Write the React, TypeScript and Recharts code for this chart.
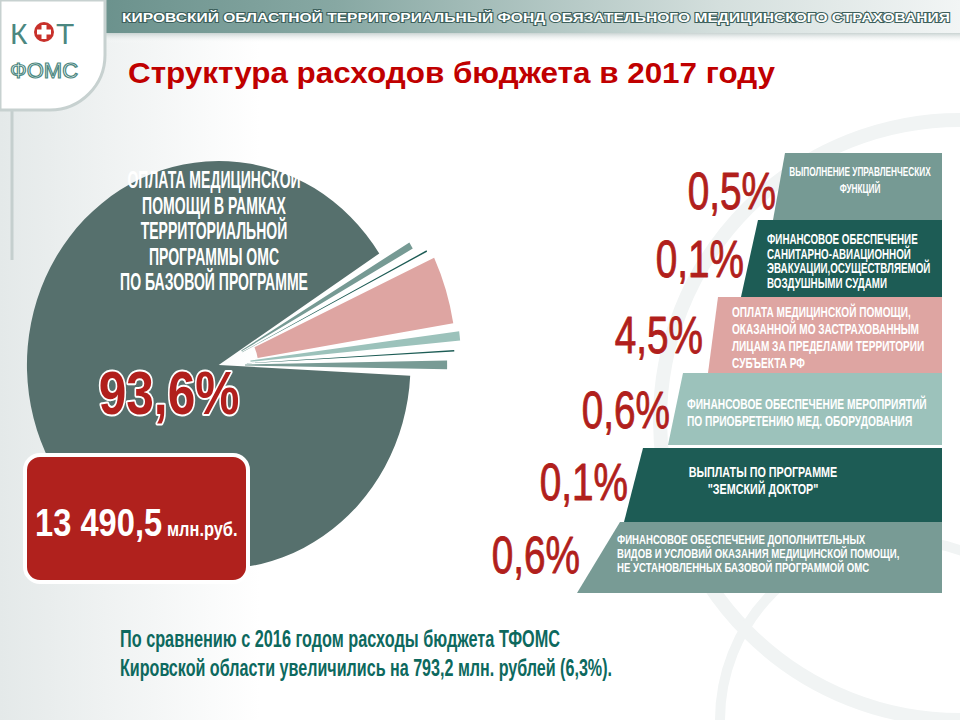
import React from "react";
import { PieChart, Pie, Cell } from "recharts";

// budget structure 2017, % of total spending
const bigName = "Оплата медицинской помощи в рамках территориальной программы ОМС по базовой программе";
const bigShare = 93.6;
const bigLabelLines = [
  "ОПЛАТА МЕДИЦИНСКОЙ",
  "ПОМОЩИ В РАМКАХ",
  "ТЕРРИТОРИАЛЬНОЙ",
  "ПРОГРАММЫ ОМС",
  "ПО БАЗОВОЙ ПРОГРАММЕ",
];
const totalSum = "13 490,5";
const totalUnit = "млн.руб.";

const otherNames = [
  "Выполнение управленческих функций",
  "Санитарно-авиационная эвакуация",
  "Оплата помощи застрахованным за пределами субъекта РФ",
  "Приобретение мед. оборудования",
  "Земский доктор",
  "Дополнительные виды помощи",
];
const otherShares = [0.5, 0.1, 4.5, 0.6, 0.1, 0.6];
const otherLines = [
  ["ВЫПОЛНЕНИЕ УПРАВЛЕНЧЕСКИХ", "ФУНКЦИЙ"],
  ["ФИНАНСОВОЕ ОБЕСПЕЧЕНИЕ", "САНИТАРНО-АВИАЦИОННОЙ", "ЭВАКУАЦИИ,ОСУЩЕСТВЛЯЕМОЙ", "ВОЗДУШНЫМИ СУДАМИ"],
  ["ОПЛАТА МЕДИЦИНСКОЙ ПОМОЩИ,", "ОКАЗАННОЙ МО ЗАСТРАХОВАННЫМ", "ЛИЦАМ ЗА ПРЕДЕЛАМИ ТЕРРИТОРИИ", "СУБЪЕКТА РФ"],
  ["ФИНАНСОВОЕ ОБЕСПЕЧЕНИЕ МЕРОПРИЯТИЙ", "ПО ПРИОБРЕТЕНИЮ МЕД. ОБОРУДОВАНИЯ"],
  ["ВЫПЛАТЫ ПО ПРОГРАММЕ", "\"ЗЕМСКИЙ ДОКТОР\""],
  ["ФИНАНСОВОЕ ОБЕСПЕЧЕНИЕ ДОПОЛНИТЕЛЬНЫХ", "ВИДОВ И УСЛОВИЙ ОКАЗАНИЯ МЕДИЦИНСКОЙ ПОМОЩИ,", "НЕ УСТАНОВЛЕННЫХ БАЗОВОЙ ПРОГРАММОЙ ОМС"],
];

const headerText = "КИРОВСКИЙ ОБЛАСТНОЙ ТЕРРИТОРИАЛЬНЫЙ ФОНД ОБЯЗАТЕЛЬНОГО МЕДИЦИНСКОГО СТРАХОВАНИЯ";
const titleText = "Структура  расходов бюджета в 2017 году";
const noteLines = [
  "По сравнению с 2016 годом расходы бюджета ТФОМС",
  "Кировской области увеличились на 793,2 млн. рублей (6,3%).",
];

const BIG_COLOR = "#56706d";
const OTHER_COLORS = ["#769a94", "#1d5c55", "#dea5a2", "#9cc2bb", "#1d5c55", "#789b95"];
const RED = "#b11f1c";

// pie placement; the slide is a little squeezed sideways
const CX = 214;
const CY = 360;
const BIG_R = 204;
const SMALL_OUTER = [237, 249, 253, 258, 251, 243];
const SMALL_INNER = [28, 28, 42, 34, 30, 28];

// panel geometry for the right-hand legend
const panels = [
  { y0: 153, y1: 220, xt: 785, xb: 773, tx: 860, anchor: "middle", ty: 176, lh: 17, size: 12.5, sx: 0.66, pctX: 776, pctY: 209 },
  { y0: 220, y1: 297, xt: 758, xb: 741, tx: 767, anchor: "start", ty: 244, lh: 14.5, size: 14, sx: 0.7, pctX: 744, pctY: 277 },
  { y0: 297, y1: 373, xt: 718, xb: 708, tx: 732, anchor: "start", ty: 317, lh: 17, size: 14, sx: 0.72, pctX: 703, pctY: 353 },
  { y0: 373, y1: 445, xt: 683, xb: 668, tx: 687, anchor: "start", ty: 409, lh: 17, size: 14, sx: 0.73, pctX: 670, pctY: 428 },
  { y0: 448, y1: 522, xt: 643, xb: 624, tx: 763, anchor: "middle", ty: 477, lh: 17, size: 14, sx: 0.77, pctX: 628, pctY: 500 },
  { y0: 522, y1: 593, xt: 620, xb: 577, tx: 617, anchor: "start", ty: 544, lh: 14, size: 13, sx: 0.74, pctX: 580, pctY: 573 },
];

const FONT = "'Liberation Sans', Arial, sans-serif";

const fmt = (v: number) => `${v.toFixed(1).replace(".", ",")}%`;

// squeezed text, to get the look of a condensed face
function CText({ x, y, size, sx, anchor = "start", weight = 700, fill = "#fff", children, stroke, sw }: any) {
  return (
    <text
      transform={`translate(${x},${y}) scale(${sx},1)`}
      fontFamily={FONT}
      fontSize={size}
      fontWeight={weight}
      textAnchor={anchor}
      fill={fill}
      stroke={stroke}
      strokeWidth={sw}
      paintOrder="stroke"
      strokeLinejoin="round"
    >
      {children}
    </text>
  );
}

export default function App() {
  // counterclockwise from the bottom small slice round to the big one
  const pieData = [
    ...otherNames.map((n, i) => ({ name: n, value: otherShares[i], color: OTHER_COLORS[i], idx: i })).reverse(),
    { name: bigName, value: bigShare, color: BIG_COLOR, idx: -1 },
  ];

  const pieProps = {
    data: pieData,
    dataKey: "value",
    nameKey: "name",
    cx: CX,
    cy: CY,
    startAngle: -1,
    endAngle: 359,
    paddingAngle: 2,
    stroke: "none",
    isAnimationActive: false,
  };

  return (
    <div style={{ position: "absolute", left: 0, top: 0, width: 960, height: 720, overflow: "hidden", background: "#fff" }}>
      <svg width={960} height={720} style={{ position: "absolute", left: 0, top: 0 }}>
        <defs>
          <linearGradient id="bgLeft" x1="0" x2="1" y1="0" y2="0">
            <stop offset="0" stopColor="#e4e9e9" />
            <stop offset="1" stopColor="#ffffff" />
          </linearGradient>
          <linearGradient id="band" x1="0" x2="1" y1="0" y2="0">
            <stop offset="0" stopColor="#5f8883" />
            <stop offset="0.35" stopColor="#87a8a3" />
            <stop offset="0.75" stopColor="#d4dfdd" />
            <stop offset="1" stopColor="#f2f5f5" />
          </linearGradient>
          <linearGradient id="shadow" x1="0" x2="0" y1="0" y2="1">
            <stop offset="0" stopColor="#c9d3d2" />
            <stop offset="1" stopColor="#ffffff" stopOpacity="0" />
          </linearGradient>
        </defs>
        <rect x={0} y={0} width={260} height={720} fill="url(#bgLeft)" />
        <circle cx={960} cy={420} r={300} fill="none" stroke="#f1f4f4" strokeWidth={14} />
        <circle cx={900} cy={720} r={180} fill="none" stroke="#f1f4f4" strokeWidth={10} />
        <rect x={0} y={0} width={960} height={33} fill="url(#band)" />
        <rect x={0} y={33} width={960} height={10} fill="url(#shadow)" />
        <line x1={12} y1={100} x2={12} y2={260} stroke="#c5cfce" strokeWidth={3} />
        <path d="M0 0 H105 V55 A55 55 0 0 1 50 110 H0 Z" fill="#fff" stroke="#c7d1d0" strokeWidth={3} />
        <text x={10} y={44} fontFamily={FONT} fontSize={30} fill="#4b8780">К</text>
        <circle cx={44} cy={32} r={10} fill="#c8312b" />
        <rect x={41.5} y={25} width={5} height={14} fill="#fff" />
        <rect x={37} y={29.5} width={14} height={5} fill="#fff" />
        <text x={56} y={44} fontFamily={FONT} fontSize={30} fill="#4b8780">Т</text>
        <text x={10} y={78} fontFamily={FONT} fontSize={22} fill="#fff" stroke="#4b8780" strokeWidth={1.2}>ФОМС</text>
        <text
          x={122}
          y={22}
          fontFamily={FONT}
          fontSize={13}
          fontWeight={700}
          fill="#fff"
          stroke="#3c5f5b"
          strokeWidth={2}
          paintOrder="stroke"
          textLength={828}
          lengthAdjust="spacingAndGlyphs"
        >
          {headerText}
        </text>
      </svg>

      <div
        style={{
          position: "absolute",
          left: 0,
          top: 0,
          transform: "scale(0.94, 1)",
          transformOrigin: `${CX}px ${CY}px`,
        }}
      >
        <PieChart width={960} height={720}>
          <Pie {...pieProps} outerRadius={BIG_R}>
            {pieData.map((d, i) => (
              <Cell key={`big-${i}`} fill={d.idx === -1 ? d.color : "none"} />
            ))}
          </Pie>
          {otherShares.map((_, k) => (
            <Pie key={`p-${k}`} {...pieProps} innerRadius={SMALL_INNER[k]} outerRadius={SMALL_OUTER[k]}>
              {pieData.map((d, i) => (
                <Cell key={`s-${k}-${i}`} fill={d.idx === k ? d.color : "none"} />
              ))}
            </Pie>
          ))}
        </PieChart>
      </div>

      <svg width={960} height={720} style={{ position: "absolute", left: 0, top: 0 }}>
        <text
          x={128}
          y={83}
          fontFamily={FONT}
          fontSize={30}
          fontWeight={700}
          fill="#c00000"
          textLength={647}
          lengthAdjust="spacingAndGlyphs"
        >
          {titleText}
        </text>

        {bigLabelLines.map((l, i) => (
          <CText key={l} x={214} y={188 + i * 25.5} size={23} sx={0.61} anchor="middle">
            {l}
          </CText>
        ))}
        <CText x={169} y={414} size={62} sx={0.8} anchor="middle" fill={RED} stroke="#fff" sw={4}>
          {fmt(bigShare)}
        </CText>

        <rect x={25} y={455} width={223} height={127} rx={15} fill="#b0211d" stroke="#fff" strokeWidth={4} />
        <CText x={35} y={536} size={38} sx={0.86}>
          {totalSum}
        </CText>
        <CText x={167} y={536} size={20} sx={0.82}>
          {totalUnit}
        </CText>

        {panels.map((p, i) => (
          <g key={i}>
            <polygon
              points={`${p.xt},${p.y0} 942,${p.y0} 942,${p.y1} ${p.xb},${p.y1}`}
              fill={OTHER_COLORS[i]}
            />
            {otherLines[i].map((l, j) => (
              <CText key={j} x={p.tx} y={p.ty + j * p.lh} size={p.size} sx={p.sx} anchor={p.anchor}>
                {l}
              </CText>
            ))}
            <CText x={p.pctX} y={p.pctY} size={51} sx={0.76} anchor="end" weight={400} fill={RED} stroke={RED} sw={0.9}>
              {fmt(otherShares[i])}
            </CText>
          </g>
        ))}

        {noteLines.map((l, i) => (
          <text
            key={i}
            x={120}
            y={647 + i * 29}
            fontFamily={FONT}
            fontSize={24}
            fontWeight={700}
            fill="#0d695e"
            textLength={i === 0 ? 440 : 492}
            lengthAdjust="spacingAndGlyphs"
          >
            {l}
          </text>
        ))}
      </svg>
    </div>
  );
}
